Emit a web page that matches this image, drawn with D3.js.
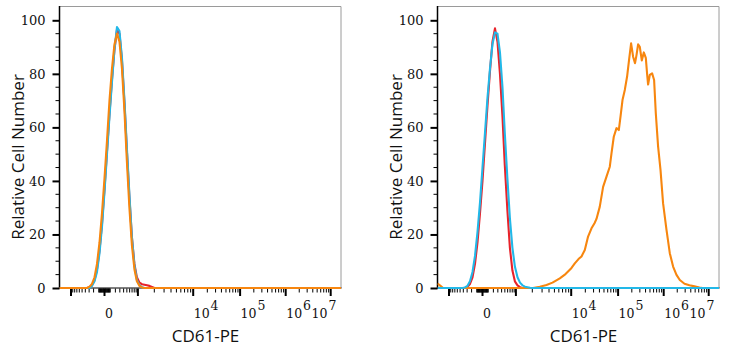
<!DOCTYPE html>
<html><head><meta charset="utf-8">
<script src="https://cdn.jsdelivr.net/npm/d3@7"></script>
<style>body{margin:0;background:#fff} svg{display:block}</style>
</head><body><svg id="c" width="729" height="350"></svg>
<script>
// ---- data ----
const nearZeroBins = [-1964, -425, -354, -291, -234, -181, -133, -87, -43, 0, 43, 87, 133, 181, 234, 291, 354, 425, 498, 591, 693, 810, 941, 1071, 1192, 1325, 1472, 1636, 1816, 2016, 17000000];
const leftRed    = [0, 0, 0, 0.3, 1, 3, 7, 14, 24, 37, 51, 65, 78, 89, 96.5, 95, 85, 69, 52, 34, 19, 9, 4, 2, 1.4, 1.2, 1, 0.8, 0.4, 0, 0];
const leftCyan   = [0, 0, 0, 0, 0.8, 2.5, 6, 13, 23, 36, 50, 64, 77, 89, 97.5, 96, 86, 70, 53, 35, 19, 8.5, 3, 1, 0.3, 0, 0, 0, 0, 0, 0];
const leftOrange = [0, 0, 0, 0.5, 1.5, 4, 9, 17, 28, 41, 55, 70, 82, 91, 95, 92, 82, 66, 48, 30, 16, 7, 2.5, 0.8, 0.2, 0, 0, 0, 0, 0, 0];
const rightRed   = [0, 0, 0, 0.5, 1.5, 4, 9, 17, 28, 40, 54, 68, 81, 92, 97, 92, 80, 64, 46, 29, 15, 6.5, 2.5, 1, 0.3, 0, 0, 0, 0, 0, 0];
const rightCyan  = [0, 0, 0.2, 0.8, 2.5, 6, 12, 21, 32, 45, 58, 71, 82, 91, 95.5, 95, 88, 75, 58, 41, 26, 15, 8, 4, 2, 1, 0.5, 0.3, 0.1, 0, 0];
const rightOrangeX = [-1964, -1650, -1418, 2067, 2731, 3606, 4620, 6246, 7905, 10150, 11930, 14300, 16580, 19500, 22900, 27100, 31400, 34600, 40700, 47900, 56600, 66500, 72300, 80900, 92500, 103600, 112900, 124900, 140300, 157500, 174200, 192800, 213300, 235000, 253300, 274600, 299000, 331000, 366000, 405000, 432500, 455000, 496000, 557000, 616000, 671000, 754000, 851000, 970000, 1154000, 1366000, 1618000, 1924000, 2280000, 2900000, 3740000, 4830000, 6250000, 7280000, 17000000];
const rightOrangeY = [1.7, 0.8, 0, 0, 0.5, 1.1, 2.0, 3.6, 5.2, 7.5, 9.2, 10.8, 11.8, 14.2, 19.2, 22.3, 24.2, 25.8, 30.4, 37.8, 41.6, 45.3, 50.3, 56.5, 59.7, 59, 64, 70.2, 74, 79, 85.3, 91.4, 86.4, 84, 87, 91, 90.1, 85, 88, 86, 80, 76, 79.6, 80.2, 77.7, 65.3, 52.8, 44.1, 31.6, 21.7, 13, 8, 4.9, 3, 1.6, 1.0, 0.6, 0.2, 0, 0];

const yTickValues = [0, 20, 40, 60, 80, 100];
const xMajorTicks = [-1000, 0, 1000, 1e4, 1e5, 1e6, 1e7];
const xLabelValues = [0, 1e4, 1e5, 1e6, 1e7];
const xLabelExponents = ["", "4", "5", "6", "7"];
const xTitle = "CD61-PE";
const yTitle = "Relative Cell Number";
const colors = { red: "#e8232b", cyan: "#22b8e8", orange: "#f7860f" };

// ---- layout ----
const W = 282, TOP = 6, BOTTOM = 288;
const tickPos = [11.5, 45, 78.4, 133.7, 180.6, 226.2, 271.2];
const T = v => Math.asinh(v / 300);
const xLin = d3.scaleLinear().domain(xMajorTicks.map(T)).range(tickPos);
const x = v => xLin(T(v));
const y = d3.scaleLinear().domain([0, 100]).range([BOTTOM, 20.3]);

// minor ticks (axis decoration)
const minorTicks = [];
for (let s of [-1, 1]) {
  for (let k = 1; k <= 9; k++) { minorTicks.push(s * k * 10); minorTicks.push(s * k * 100); }
}
for (let e = 3; e <= 6; e++) for (let k = 2; k <= 9; k++) minorTicks.push(k * Math.pow(10, e));

const svg = d3.select("#c");
const serif = "DejaVu Serif";
const sans = "'Open Sans', sans-serif";

function panel(L, series, id) {
  const g = svg.append("g").attr("transform", `translate(${L},0)`);
  g.append("clipPath").attr("id", id).append("rect")
    .attr("x", 0).attr("y", TOP).attr("width", W).attr("height", BOTTOM - TOP + 2);

  // frame top/right
  g.append("path").attr("d", `M0,${TOP + 0.5}H${W - 0.5}V${BOTTOM}`)
    .attr("fill", "none").attr("stroke", "#9a9a9a").attr("stroke-width", 1);

  // y axis
  const ya = d3.axisLeft(y).tickValues(yTickValues).tickSize(7).tickPadding(7).tickFormat(d3.format("d"));
  const yg = g.append("g").call(ya);
  yg.select(".domain").remove();
  yg.selectAll(".tick line").attr("stroke", "#000").attr("stroke-width", 2);
  yg.selectAll(".tick text").attr("font-family", serif).attr("font-size", 13).attr("fill", "#111");
  const yMinor = d3.range(5, 101, 5).filter(v => v % 20 !== 0);
  g.selectAll(".ymin").data(yMinor).join("line")
    .attr("x1", -4).attr("x2", 0).attr("y1", d => y(d)).attr("y2", d => y(d))
    .attr("stroke", "#000").attr("stroke-width", 1);
  g.append("line").attr("x1", 0).attr("x2", 0).attr("y1", TOP).attr("y2", BOTTOM + 1)
    .attr("stroke", "#000").attr("stroke-width", 1.5);

  // x axis
  g.append("line").attr("x1", 0).attr("x2", W).attr("y1", BOTTOM).attr("y2", BOTTOM)
    .attr("stroke", "#000").attr("stroke-width", 1);
  g.selectAll(".xmin").data(minorTicks.filter(v => x(v) > 0 && x(v) < W)).join("line")
    .attr("x1", d => x(d)).attr("x2", d => x(d)).attr("y1", BOTTOM + 0.5).attr("y2", BOTTOM + 4.5)
    .attr("stroke", "#000").attr("stroke-width", 1);
  g.selectAll(".xmaj").data(xMajorTicks).join("line")
    .attr("x1", d => x(d)).attr("x2", d => x(d)).attr("y1", BOTTOM + 0.5).attr("y2", BOTTOM + 8)
    .attr("stroke", "#000").attr("stroke-width", 2);

  xLabelValues.forEach((v, i) => {
    const t = g.append("text").attr("x", x(v) + 0.5).attr("y", 318)
      .attr("font-family", serif).attr("font-size", 12.5).attr("fill", "#111");
    if (xLabelExponents[i] === "") { t.text("0"); }
    else {
      t.append("tspan").text("10");
      t.append("tspan").attr("dx", 1).attr("dy", -8).text(xLabelExponents[i]);
    }
    const bb = t.node().getBBox();
    if (bb.x + bb.width > W - 5) t.attr("x", W - 5 - bb.width);
  });

  // series
  const line = d3.line().x(d => x(d[0])).y(d => y(d[1]));
  const sg = g.append("g").attr("clip-path", `url(#${id})`);
  series.forEach(s => {
    sg.append("path").datum(d3.zip(s.xs, s.ys)).attr("d", line)
      .attr("fill", "none").attr("stroke", s.color).attr("stroke-width", 2.1)
      .attr("stroke-linejoin", "round");
  });

  // titles
  g.append("text").attr("x", W / 2 + 5).attr("y", 342).attr("text-anchor", "middle")
    .attr("font-family", sans).attr("font-size", 17).attr("fill", "#111").text(xTitle);
  g.append("text").attr("transform", `translate(-36,157) rotate(-90)`).attr("text-anchor", "middle")
    .attr("font-family", sans).attr("font-size", 17).attr("fill", "#111").text(yTitle);
}

panel(59.5, [
  { xs: nearZeroBins, ys: leftRed, color: colors.red },
  { xs: nearZeroBins, ys: leftCyan, color: colors.cyan },
  { xs: nearZeroBins, ys: leftOrange, color: colors.orange }
], "clipL");
panel(437.5, [
  { xs: nearZeroBins, ys: rightRed, color: colors.red },
  { xs: rightOrangeX, ys: rightOrangeY, color: colors.orange },
  { xs: nearZeroBins, ys: rightCyan, color: colors.cyan }
], "clipR");
</script>
</body></html>
